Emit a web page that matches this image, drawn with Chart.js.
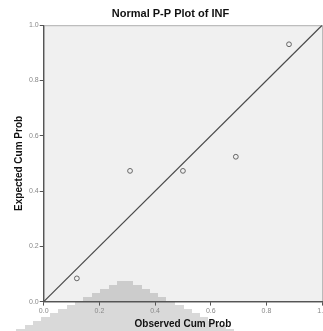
<!DOCTYPE html>
<html lang="en">
<head>
    <meta charset="UTF-8">
    <script src="https://cdn.jsdelivr.net/npm/chart.js"></script>
    <title>Normal P-P Plot of INF</title>
    <style>
        html, body { margin: 0; padding: 0; background: #fff; overflow: hidden; }
        #wrap { width: 328px; height: 331px; }
    </style>
</head>
<body>
    <div id="wrap">
        <canvas id="pp"></canvas>
    </div>
    <script>
        // observed vs expected cumulative probabilities
        const observed = [0.119, 0.310, 0.500, 0.690, 0.881];
        const expected = [0.084, 0.473, 0.473, 0.524, 0.931];
        const refLine = [0, 1];
        const tickValues = [0, 0.2, 0.4, 0.6, 0.8, 1.0];

        const points = observed.map((v, i) => ({ x: v, y: expected[i] }));
        const diag = refLine.map(v => ({ x: v, y: v }));

        const FONT = '"Liberation Sans", Arial, sans-serif';

        // grey plot area + frame, and the faint grey smudge at the bottom
        const plotBg = {
            id: 'plotBg',
            beforeDraw(chart) {
                const { ctx, chartArea: a } = chart;
                ctx.save();
                ctx.fillStyle = '#f0f0f0';
                ctx.fillRect(a.left, a.top, a.right - a.left, a.bottom - a.top);
                ctx.strokeStyle = '#b0b0b0';
                ctx.lineWidth = 1;
                ctx.strokeRect(a.left + 0.5, a.top + 0.5, a.right - a.left, a.bottom - a.top);

                // stepped pyramid smudge
                ctx.fillStyle = 'rgba(0,0,0,0.15)';
                const apexX = 125, apexY = 281, baseY = 331, step = 4;
                for (let y = apexY; y < baseY; y += step) {
                    const half = 8 + (y - apexY) * 2.1;
                    ctx.fillRect(Math.round(apexX - half), y, Math.round(half * 2), step);
                }
                ctx.restore();
            }
        };

        new Chart(document.getElementById('pp'), {
            type: 'scatter',
            data: {
                datasets: [{
                    type: 'line',
                    data: diag,
                    borderColor: '#4a4a4a',
                    borderWidth: 1.2,
                    pointRadius: 0,
                    fill: false
                }, {
                    data: points,
                    pointRadius: 2.4,
                    pointBorderWidth: 1,
                    pointBorderColor: '#666',
                    pointBackgroundColor: 'rgba(0,0,0,0)'
                }]
            },
            plugins: [plotBg],
            options: {
                responsive: true,
                maintainAspectRatio: false,
                animation: false,
                layout: { padding: { left: 13, right: 0, top: 0, bottom: 0 } },
                plugins: {
                    legend: { display: false },
                    tooltip: { enabled: false },
                    title: {
                        display: true,
                        text: 'Normal P-P Plot of INF',
                        color: '#111',
                        font: { family: FONT, size: 11, weight: 'bold' },
                        padding: { top: 7, bottom: 5 }
                    }
                },
                scales: {
                    x: {
                        type: 'linear',
                        min: 0, max: 1,
                        afterBuildTicks: s => { s.ticks = tickValues.map(v => ({ value: v })); },
                        ticks: {
                            color: '#888',
                            font: { family: FONT, size: 7 },
                            padding: 1,
                            maxRotation: 0,
                            callback: v => v.toFixed(1)
                        },
                        grid: { drawOnChartArea: false, drawTicks: true, tickLength: 4, color: '#555' },
                        border: { color: '#555', width: 1.2 },
                        title: {
                            display: true,
                            text: 'Observed Cum Prob',
                            color: '#111',
                            font: { family: FONT, size: 10, weight: 'bold' },
                            padding: { top: 2, bottom: 1 }
                        }
                    },
                    y: {
                        type: 'linear',
                        min: 0, max: 1,
                        afterBuildTicks: s => { s.ticks = tickValues.map(v => ({ value: v })); },
                        ticks: {
                            color: '#888',
                            font: { family: FONT, size: 7 },
                            padding: 1,
                            callback: v => v.toFixed(1)
                        },
                        grid: { drawOnChartArea: false, drawTicks: true, tickLength: 4, color: '#555' },
                        border: { color: '#555', width: 1.2 },
                        title: {
                            display: true,
                            text: 'Expected Cum Prob',
                            color: '#111',
                            font: { family: FONT, size: 10, weight: 'bold' },
                            padding: { top: 0, bottom: 3 }
                        }
                    }
                }
            }
        });
    </script>
</body>
</html>
